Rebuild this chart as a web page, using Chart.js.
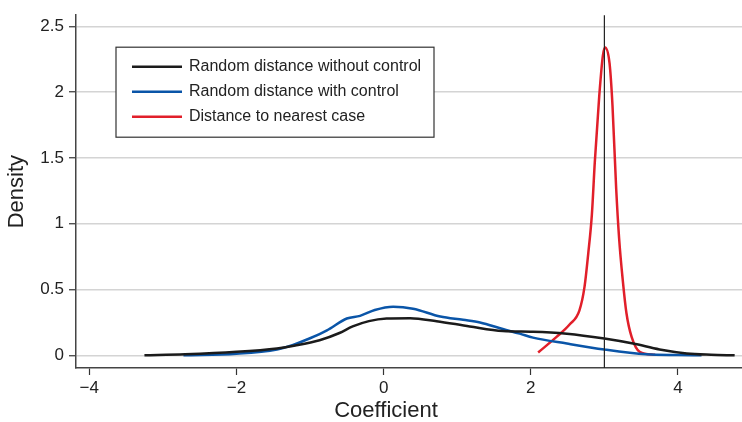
<!DOCTYPE html>
<html>
<head>
<meta charset="utf-8">
<script src="https://cdn.jsdelivr.net/npm/chart.js@4.4.1/dist/chart.umd.min.js"></script>
<style>
  html, body { margin: 0; padding: 0; background: #fff; }
</style>
</head>
<body>
<canvas id="density" width="742" height="422"></canvas>
<script>
'use strict';

// series names and colours
const seriesNames = ['Random distance without control', 'Random distance with control', 'Distance to nearest case'];
const seriesColors = ['#1b1b1b', '#0a55a8', '#e11f2a'];

// Random distance without control
const noCtrlX = [-3.25, -2.7, -2.0, -1.45, -1.2, -0.87, -0.6, -0.42, -0.2, 0.04, 0.36, 0.72, 1.17, 1.62, 2.03, 2.49, 3.0, 3.39, 3.75, 4.12, 4.45, 4.77];
const noCtrlY = [0, 0.008, 0.027, 0.053, 0.075, 0.115, 0.17, 0.22, 0.26, 0.28, 0.283, 0.26, 0.22, 0.185, 0.18, 0.165, 0.128, 0.09, 0.045, 0.015, 0.005, 0];

// Random distance with control
const ctrlX = [-2.72, -2.0, -1.45, -1.23, -1.0, -0.77, -0.5, -0.32, -0.12, 0.13, 0.4, 0.77, 1.08, 1.31, 1.62, 1.85, 2.03, 2.49, 3.0, 3.57, 4.0, 4.32];
const ctrlY = [0, 0.012, 0.045, 0.08, 0.13, 0.19, 0.28, 0.30, 0.345, 0.37, 0.355, 0.295, 0.27, 0.25, 0.2, 0.165, 0.135, 0.09, 0.045, 0.008, 0.002, 0];

// Distance to nearest case
const nearestX = [2.10, 2.35, 2.53, 2.66, 2.73, 2.78, 2.83, 2.87, 2.93, 2.98, 3.01, 3.07, 3.11, 3.16, 3.20, 3.25, 3.30, 3.37, 3.48, 3.69];
const nearestY = [0.022, 0.14, 0.236, 0.34, 0.52, 0.77, 1.07, 1.47, 1.97, 2.28, 2.34, 2.22, 1.90, 1.27, 0.89, 0.57, 0.32, 0.14, 0.027, 0.005];

const xTicks = [-4, -2, 0, 2, 4];
const yTicks = [0, 0.5, 1, 1.5, 2, 2.5];
const refLine = 3;
const xTitle = 'Coefficient';

function points(xs, ys) {
  return xs.map((x, i) => ({ x: x, y: ys[i] }));
}

const series = [points(noCtrlX, noCtrlY), points(ctrlX, ctrlY), points(nearestX, nearestY)];

const fontFamily = '"Liberation Sans", Arial, sans-serif';

// vertical reference line at x = 3
const refLinePlugin = {
  id: 'refLine',
  afterDatasetsDraw(chart) {
    const ctx = chart.ctx;
    const x = chart.scales.x.getPixelForValue(refLine);
    const area = chart.chartArea;
    ctx.save();
    ctx.strokeStyle = '#222';
    ctx.lineWidth = 1.2;
    ctx.beginPath();
    ctx.moveTo(x, area.bottom);
    ctx.lineTo(x, area.top);
    ctx.stroke();
    ctx.restore();
  }
};

// boxed legend inside the plot, plus the x title (sits left of centre in the original)
const boxLegend = {
  id: 'boxLegend',
  afterDatasetsDraw(chart) {
    const ctx = chart.ctx;
    const area = chart.chartArea;
    const left = area.left + 40;
    const top = area.top + 32;
    ctx.save();
    ctx.fillStyle = '#fff';
    ctx.fillRect(left, top, 318, 90);
    ctx.strokeStyle = '#333';
    ctx.lineWidth = 1.2;
    ctx.strokeRect(left, top, 318, 90);
    ctx.font = '16px ' + fontFamily;
    ctx.textBaseline = 'middle';
    chart.data.datasets.forEach((ds, i) => {
      const y = top + 19.5 + i * 25;
      ctx.strokeStyle = ds.borderColor;
      ctx.lineWidth = 2.5;
      ctx.beginPath();
      ctx.moveTo(left + 16, y);
      ctx.lineTo(left + 66, y);
      ctx.stroke();
      ctx.fillStyle = '#222';
      ctx.fillText(ds.label, left + 73, y);
    });

    ctx.font = '22px ' + fontFamily;
    ctx.textAlign = 'center';
    ctx.textBaseline = 'alphabetic';
    ctx.fillText(xTitle, area.left + 310, chart.height - 5);
    ctx.restore();
  }
};

new Chart(document.getElementById('density'), {
  type: 'line',
  data: {
    datasets: series.map((pts, i) => ({
      label: seriesNames[i],
      data: pts,
      borderColor: seriesColors[i],
      borderWidth: 2.5,
      pointRadius: 0,
      fill: false,
      cubicInterpolationMode: 'monotone'
    }))
  },
  options: {
    responsive: false,
    animation: false,
    devicePixelRatio: 1,
    layout: { padding: { top: 12, right: 0, left: 0, bottom: 0 } },
    plugins: { legend: { display: false }, tooltip: { enabled: false } },
    scales: {
      x: {
        type: 'linear',
        min: -4.18,
        max: 4.87,
        afterBuildTicks: (scale) => { scale.ticks = xTicks.map(v => ({ value: v })); },
        afterFit: (scale) => { scale.height = 54; },
        grid: { drawOnChartArea: false, tickLength: 7, tickColor: '#333', tickWidth: 1.2 },
        border: { color: '#444', width: 1.5 },
        ticks: {
          maxRotation: 0,
          padding: 3,
          color: '#222',
          font: { family: fontFamily, size: 17 },
          callback: (v) => (v < 0 ? '\u2212' + Math.abs(v) : String(v))
        }
      },
      y: {
        min: -0.096,
        max: 2.585,
        afterBuildTicks: (scale) => { scale.ticks = yTicks.map(v => ({ value: v })); },
        afterFit: (scale) => { scale.width = 76; },
        grid: { color: '#d4d4d4', lineWidth: 1.5, tickLength: 7, tickColor: '#333', tickWidth: 1.2 },
        border: { color: '#444', width: 1.5 },
        ticks: {
          padding: 5,
          color: '#222',
          font: { family: fontFamily, size: 17 },
          callback: (v) => String(v)
        },
        title: {
          display: true,
          text: 'Density',
          color: '#222',
          font: { family: fontFamily, size: 22 },
          padding: { top: 4, bottom: 0 }
        }
      }
    }
  },
  plugins: [refLinePlugin, boxLegend]
});
</script>
</body>
</html>
